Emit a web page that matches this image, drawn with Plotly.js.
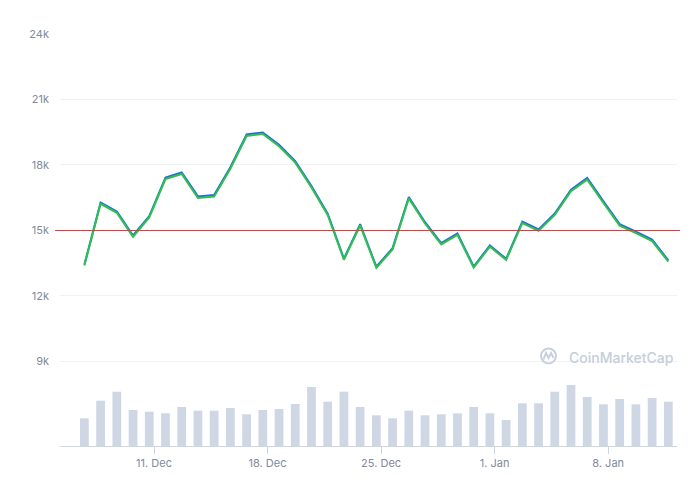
<!DOCTYPE html>
<html>
<head>
<meta charset="utf-8">
<script src="https://cdn.plot.ly/plotly-3.0.1.min.js"></script>
<style>
html,body{margin:0;padding:0;background:#fff;}
#chart{width:700px;height:482px;}
</style>
</head>
<body>
<div id="chart"></div>
<script>
// Daily samples (time of day as plotted)
const dates = [
  "2023-12-06 17:00","2023-12-07 17:00","2023-12-08 17:00","2023-12-09 17:00","2023-12-10 17:00",
  "2023-12-11 17:00","2023-12-12 17:00","2023-12-13 17:00","2023-12-14 17:00","2023-12-15 17:00",
  "2023-12-16 17:00","2023-12-17 17:00","2023-12-18 17:00","2023-12-19 17:00","2023-12-20 17:00",
  "2023-12-21 17:00","2023-12-22 17:00","2023-12-23 17:00","2023-12-24 17:00","2023-12-25 17:00",
  "2023-12-26 17:00","2023-12-27 17:00","2023-12-28 17:00","2023-12-29 17:00","2023-12-30 17:00",
  "2023-12-31 17:00","2024-01-01 17:00","2024-01-02 17:00","2024-01-03 17:00","2024-01-04 17:00",
  "2024-01-05 17:00","2024-01-06 17:00","2024-01-07 17:00","2024-01-08 17:00","2024-01-09 17:00",
  "2024-01-10 17:00","2024-01-11 17:00"
];
// Price series (blue) and companion series (green)
const priceBlue = [
  13440,16280,15870,14770,15660,17420,17660,16560,16620,17900,19400,19490,18930,18180,17040,15770,
  13710,15290,13340,14190,16530,15380,14420,14860,13350,14320,13700,15410,15050,15780,16870,17410,
  16330,15290,14950,14580,13630
];
const priceGreen = [
  13390,16220,15810,14710,15600,17350,17590,16490,16550,17830,19330,19420,18860,18110,16970,15710,
  13660,15230,13290,14130,16470,15320,14360,14800,13300,14260,13650,15340,14980,15710,16800,17330,
  16260,15220,14880,14510,13570
];
// Volume (relative units)
const volume = [
  277,453,543,360,343,327,390,353,353,380,317,360,370,420,590,443,543,390,307,277,
  353,307,317,327,390,327,260,427,427,543,610,490,417,470,417,480,443
];
const refLevel = 15000;
const yTickVals = [9000,12000,15000,18000,21000,24000];
const yTickText = ["9k","12k","15k","18k","21k","24k"];
const xTickVals = ["2023-12-11","2023-12-18","2023-12-25","2024-01-01","2024-01-08"];
const xTickText = ["11. Dec","18. Dec","25. Dec","1. Jan","8. Jan"];

const tickFont = {family: "Inter, 'Open Sans', sans-serif", size: 11, color: "#808a9d"};

const traces = [
  {
    x: dates, y: volume, type: "bar", yaxis: "y2",
    marker: {color: "#cfd6e4", line: {width: 0}},
    hoverinfo: "skip", showlegend: false
  },
  {
    x: dates, y: priceBlue, type: "scatter", mode: "lines",
    line: {color: "#3a5cf2", width: 2}, showlegend: false
  },
  {
    x: dates, y: priceGreen, type: "scatter", mode: "lines",
    line: {color: "#26c64a", width: 2}, showlegend: false
  }
];

const layout = {
  width: 700, height: 482,
  margin: {l: 60, r: 23, t: 34, b: 36},
  paper_bgcolor: "#ffffff", plot_bgcolor: "#ffffff",
  bargap: 0.46,
  showlegend: false,
  xaxis: {
    type: "date",
    range: ["2023-12-05 04:55", "2024-01-12 05:50"],
    tickvals: xTickVals, ticktext: xTickText,
    ticks: "outside", ticklen: 7, tickcolor: "#ccd6eb", tickwidth: 1,
    showline: true, linecolor: "#ccd6eb", linewidth: 1,
    showgrid: false, zeroline: false,
    tickfont: tickFont
  },
  yaxis: {
    range: [5127, 24000],
    tickvals: yTickVals, ticktext: yTickText,
    showgrid: true, gridcolor: "#eff2f5", gridwidth: 1,
    zeroline: false, showline: false,
    ticklabelstandoff: 10,
    tickfont: tickFont
  },
  yaxis2: {
    overlaying: "y", range: [0, 4120],
    visible: false, showgrid: false, zeroline: false
  },
  shapes: [
    {
      type: "line", xref: "paper", yref: "y",
      x0: -0.008, x1: 1.005, y0: refLevel, y1: refLevel,
      line: {color: "#ff2a2a", width: 1}
    },
    {
      type: "circle", xref: "paper", yref: "paper",
      x0: (541 - 60) / 617, x1: (556 - 60) / 617,
      y0: (446 - 363.5) / 412, y1: (446 - 348.5) / 412,
      line: {color: "#c9d0dd", width: 2}
    },
    {
      type: "path", xref: "paper", yref: "paper",
      path: "M " + ((543.5 - 60) / 617) + " " + ((446 - 359.5) / 412) +
            " L " + ((546 - 60) / 617) + " " + ((446 - 353) / 412) +
            " L " + ((548.5 - 60) / 617) + " " + ((446 - 358) / 412) +
            " L " + ((551 - 60) / 617) + " " + ((446 - 353) / 412) +
            " L " + ((553.5 - 60) / 617) + " " + ((446 - 358) / 412),
      line: {color: "#c9d0dd", width: 2}
    }
  ],
  annotations: [
    {
      xref: "paper", yref: "paper",
      x: (567 - 60) / 617, y: (446 - 357) / 412,
      xanchor: "left", yanchor: "middle",
      text: "CoinMarketCap", showarrow: false,
      font: {family: "Inter, 'Open Sans', sans-serif", size: 14, weight: 500, color: "#c6cdda"}
    }
  ]
};

Plotly.newPlot("chart", traces, layout, {displayModeBar: false, staticPlot: true});
</script>
</body>
</html>
